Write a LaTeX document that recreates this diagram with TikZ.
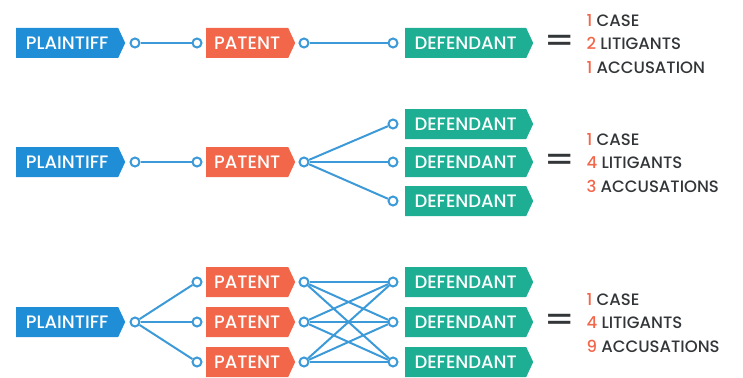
\documentclass[tikz,border=0pt]{standalone}
\usepackage{fontspec}
\setmainfont{Poppins}[BoldFont={* Medium}]
\usetikzlibrary{shapes.symbols}
\definecolor{plaintiffblue}{HTML}{1F8ED6}
\definecolor{patentred}{HTML}{F2664A}
\definecolor{defteal}{HTML}{1DAE94}
\definecolor{linkblue}{HTML}{3D9AD8}
\definecolor{textgray}{HTML}{333638}
\definecolor{numred}{HTML}{F2664A}
\tikzset{
  tag/.style={signal, signal to=east, signal from=nowhere, signal pointer angle=130,
              minimum height=30pt, inner sep=0pt, text=white, anchor=west,
              font=\fontsize{18}{18}\selectfont\bfseries},
  plaintiff/.style={tag, fill=plaintiffblue, minimum width=109pt},
  patent/.style={tag, fill=patentred, minimum width=89pt},
  defendant/.style={tag, fill=defteal, minimum width=128pt},
  dot/.style={circle, draw=linkblue, fill=white, line width=2pt,
              minimum size=9pt, inner sep=0pt},
  wire/.style={draw=linkblue, line width=2pt},
  equals/.style={text=textgray, font=\fontsize{31}{31}\selectfont\bfseries},
  result/.style={align=left, anchor=west, text=textgray,
                 font=\fontsize{16.5}{23.5}\selectfont\bfseries}
}
\newcommand{\num}[1]{\textcolor{numred}{#1}}
\newcommand{\eqsign}{\scalebox{1.35}[1]{=}}

\begin{document}
\begin{tikzpicture}[x=1pt,y=-1pt]
  \useasboundingbox (0,0) rectangle (743,377);
  % row 1: one patent, one defendant
  \node[plaintiff] (pl1) at (16,43) {PLAINTIFF};
  \node[patent] (pa1) at (206,43) {PATENT};
  \node[defendant] (de1) at (405,43) {DEFENDANT};
  \node[dot] (pl1o) at (135,43) {};
  \node[dot] (pa1i) at (197,43) {};
  \node[dot] (pa1o) at (304,43) {};
  \node[dot] (de1i) at (393,43) {};
  \draw[wire] (pl1o) -- (pa1i);
  \draw[wire] (pa1o) -- (de1i);
  \node[equals] (eq1) at (560,43) {\eqsign};
  \node[result] (re1) at (583,44)
    {\num{1} CASE\\\num{2} LITIGANTS\\\num{1} ACCUSATION};

  % row 2: one patent, three defendants
  \node[plaintiff] (pl2) at (16,162) {PLAINTIFF};
  \node[patent] (pa2) at (206,162) {PATENT};
  \node[dot] (pl2o) at (135,162) {};
  \node[dot] (pa2i) at (197,162) {};
  \node[dot] (pa2o) at (304,162) {};
  \draw[wire] (pl2o) -- (pa2i);
  \foreach \i/\y in {1/124,2/162,3/201} {
    \node[defendant] (de2\i) at (405,\y) {DEFENDANT};
    \node[dot] (de2\i i) at (393,\y) {};
    \draw[wire] (pa2o) -- (de2\i i);
  }
  \node[equals] (eq2) at (560,162) {\eqsign};
  \node[result] (re2) at (583,163)
    {\num{1} CASE\\\num{4} LITIGANTS\\\num{3} ACCUSATIONS};

  % row 3: three patents, three defendants
  \node[plaintiff] (pl3) at (16,322) {PLAINTIFF};
  \node[dot] (pl3o) at (135,322) {};
  \foreach \i/\y in {1/282,2/322,3/362} {
    \node[patent] (pa3\i) at (206,\y) {PATENT};
    \node[dot] (pa3\i i) at (197,\y) {};
    \node[dot] (pa3\i o) at (304,\y) {};
    \node[defendant] (de3\i) at (405,\y) {DEFENDANT};
    \node[dot] (de3\i i) at (393,\y) {};
    \draw[wire] (pl3o) -- (pa3\i i);
  }
  \foreach \i in {1,2,3} {
    \foreach \j in {1,2,3} {
      \draw[wire] (pa3\i o) -- (de3\j i);
    }
  }
  \node[equals] (eq3) at (560,322) {\eqsign};
  \node[result] (re3) at (583,323)
    {\num{1} CASE\\\num{4} LITIGANTS\\\num{9} ACCUSATIONS};
\end{tikzpicture}
\end{document}
